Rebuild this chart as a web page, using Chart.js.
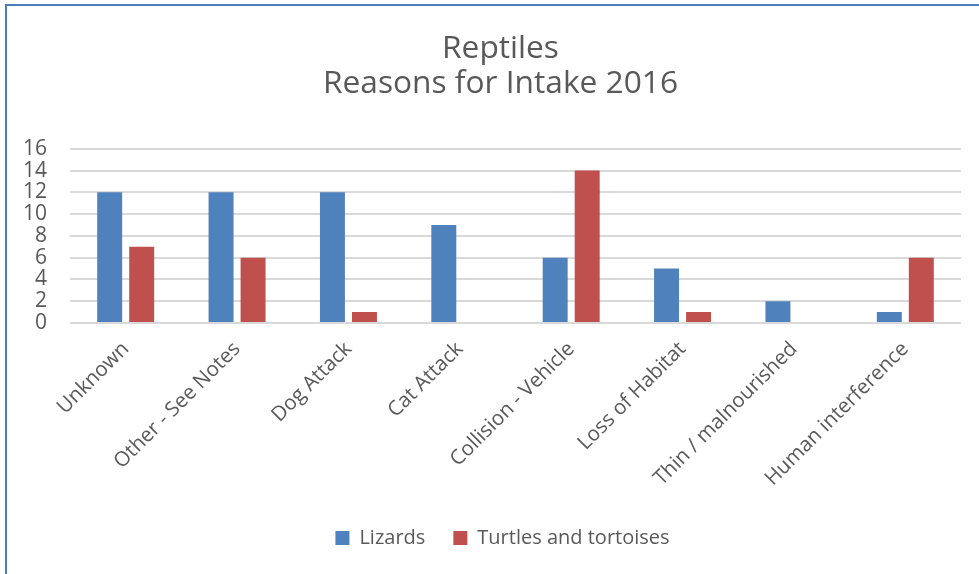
<!DOCTYPE html>
<html>
<head>
<meta charset="utf-8">
<script src="https://cdn.jsdelivr.net/npm/chart.js@4/dist/chart.umd.min.js"></script>
<style>
  html, body { margin: 0; padding: 0; background: #fff; }
  #wrap { position: relative; width: 979px; height: 574px; }
  #frame { position: absolute; left: 5px; top: 4px; right: 0; bottom: 0;
           border-top: 2px solid #4a7ebf; border-left: 2px solid #4a7ebf; pointer-events: none; }
  canvas { position: absolute; left: 0; top: 0; }
</style>
</head>
<body>
<div id="wrap">
  <canvas id="c" width="979" height="574"></canvas>
  <div id="frame"></div>
</div>
<script>
const categories = ["Unknown", "Other - See Notes", "Dog Attack", "Cat Attack",
                    "Collision - Vehicle", "Loss of Habitat", "Thin / malnourished", "Human interference"];
const lizards = [12, 12, 12, 9, 6, 5, 2, 1];
const turtles = [7, 6, 1, 0, 14, 1, 0, 6];
const seriesNames = ["Lizards", "Turtles and tortoises"];
const titleLines = ["Reptiles", "Reasons for Intake 2016"];
const yTicks = [0, 2, 4, 6, 8, 10, 12, 14, 16];

const FONT = "'Open Sans', sans-serif";
const TXT = "#595959";

// shift the title and legend boxes so they are centred like the reference
const shiftBoxes = {
  id: "shiftBoxes",
  afterLayout(chart) {
    if (chart.titleBlock) chart.titleBlock.left += 40;
    if (chart.legend) chart.legend.left += 44;
  }
};

new Chart(document.getElementById("c"), {
  type: "bar",
  data: {
    labels: categories,
    datasets: [
      { label: seriesNames[0], data: lizards, backgroundColor: "#4f81bd", borderWidth: 0 },
      { label: seriesNames[1], data: turtles, backgroundColor: "#c0504d", borderWidth: 0 }
    ]
  },
  plugins: [shiftBoxes],
  options: {
    responsive: false,
    animation: false,
    devicePixelRatio: 1,
    layout: { padding: { left: 0, right: 18, top: 0, bottom: 16 } },
    datasets: { bar: { categoryPercentage: 0.575, barPercentage: 0.78 } },
    plugins: {
      title: {
        display: true,
        text: titleLines,
        color: TXT,
        font: { family: FONT, size: 31.7, weight: "normal", lineHeight: 1.1 },
        padding: { top: 32, bottom: 47 }
      },
      legend: {
        position: "bottom",
        labels: {
          color: TXT,
          font: { family: FONT, size: 20 },
          boxWidth: 14, boxHeight: 14,
          padding: 28
        }
      },
      tooltip: { enabled: false }
    },
    scales: {
      y: {
        min: 0, max: 16,
        afterBuildTicks: (s) => { s.ticks = yTicks.map(v => ({ value: v })); },
        afterFit: (s) => { s.width = 70; },
        border: { display: false },
        grid: { color: "#d9d9d9", lineWidth: 2, drawTicks: false },
        ticks: { color: TXT, font: { family: FONT, size: 21 }, padding: 23, autoSkip: false, stepSize: 2 }
      },
      x: {
        afterFit: (s) => { s.height = 177; },
        border: { display: false },
        grid: { display: false, drawTicks: false },
        ticks: { color: TXT, font: { family: FONT, size: 20.5 }, minRotation: 45, maxRotation: 45, padding: 14, autoSkip: false }
      }
    }
  }
});
</script>
</body>
</html>
